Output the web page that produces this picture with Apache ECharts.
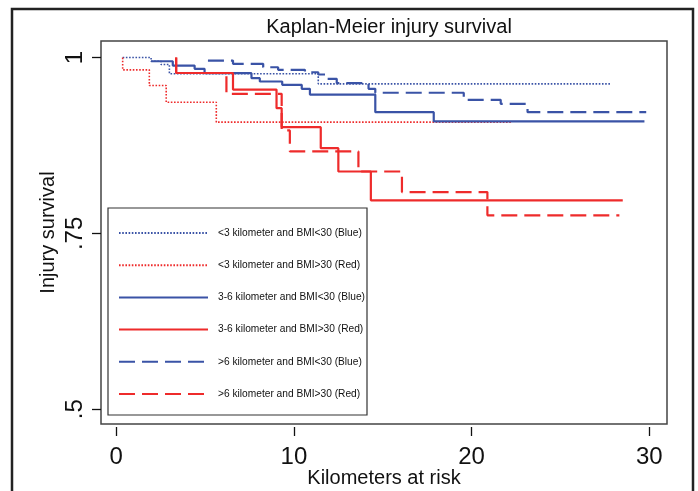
<!DOCTYPE html>
<html>
<head>
<meta charset="utf-8">
<script src="https://cdn.jsdelivr.net/npm/echarts@6/dist/echarts.min.js"></script>
<style>html,body{margin:0;padding:0;background:#fff}#c{width:698px;height:491px}</style>
</head>
<body>
<div id="c"></div>
<script>
// ---- data ----
const seriesNames = [
  '<3 kilometer and BMI<30 (Blue)',
  '<3 kilometer and BMI>30 (Red)',
  '3-6 kilometer and BMI<30 (Blue)',
  '3-6 kilometer and BMI>30 (Red)',
  '>6 kilometer and BMI<30 (Blue)',
  '>6 kilometer and BMI>30 (Red)'
];
const blueDottedTime = [0.36, 1.96, 2.52, 2.99, 11.37, 27.8];
const blueDottedSurv = [1.0, 0.9947, 0.990, 0.977, 0.9626, 0.9626];
const redDottedTime = [0.36, 0.36, 1.86, 2.81, 5.63, 22.3];
const redDottedSurv = [1.0, 0.9825, 0.9602, 0.9365, 0.9081, 0.9081];
const blueSolidTime = [1.96, 3.18, 4.41, 4.97, 7.61, 8.08, 9.34, 10.44, 10.90, 14.58, 17.87, 29.73];
const blueSolidSurv = [0.9947, 0.9886, 0.9839, 0.9777, 0.9706, 0.9659, 0.9612, 0.9555, 0.9474, 0.9223, 0.9091, 0.9091];
const redSolidTime = [3.37, 3.37, 6.57, 9.02, 9.31, 11.51, 12.50, 14.33, 28.51];
const redSolidSurv = [1.0, 0.978, 0.9545, 0.928, 0.901, 0.8712, 0.838, 0.797, 0.797];
const blueDashedTime = [5.16, 6.57, 8.27, 9.11, 10.62, 11.37, 11.85, 12.41, 14.20, 14.58, 19.56, 21.64, 23.15, 29.83];
const blueDashedSurv = [0.9957, 0.9911, 0.9862, 0.9825, 0.9791, 0.9759, 0.9697, 0.9635, 0.9555, 0.9499, 0.9399, 0.9342, 0.9223, 0.9223];
const redDashedTime = [3.37, 3.37, 6.20, 9.31, 9.77, 13.63, 16.08, 20.89, 28.32];
const redDashedSurv = [1.0, 0.978, 0.9484, 0.8963, 0.8665, 0.838, 0.8087, 0.7756, 0.7756];
const xTickValues = [0, 10, 20, 30];
const yTickValues = [0.5, 0.75, 1];
const yTickLabels = ['.5', '.75', '1'];

// ---- styling ----
const BLUE = '#3a53a6';
const RED = '#ee2b2b';
const FONT = 'Liberation Sans, Arial, sans-serif';
const zip = (t, s) => t.map((v, i) => [v, s[i]]);

const defs = [
  {t: blueDottedTime, s: blueDottedSurv, c: BLUE, w: 1.6, type: [1.6, 1.6]},
  {t: redDottedTime, s: redDottedSurv, c: RED, w: 1.6, type: [1.6, 1.6]},
  {t: blueSolidTime, s: blueSolidSurv, c: BLUE, w: 2.2, type: 'solid'},
  {t: redSolidTime, s: redSolidSurv, c: RED, w: 2.2, type: 'solid'},
  {t: blueDashedTime, s: blueDashedSurv, c: BLUE, w: 2.2, type: [16, 7]},
  {t: redDashedTime, s: redDashedSurv, c: RED, w: 2.2, type: [16, 7]}
];

const chart = echarts.init(document.getElementById('c'), null, {renderer: 'canvas'});
chart.setOption({
  animation: false,
  backgroundColor: '#fff',
  textStyle: {fontFamily: FONT, color: '#111'},
  title: {
    text: 'Kaplan-Meier injury survival',
    left: 384, top: 12, textAlign: 'center',
    textStyle: {fontFamily: FONT, fontSize: 20, fontWeight: 'normal', color: '#111'}
  },
  grid: {
    left: 101, top: 41, right: 31, bottom: 67,
    outerBoundsMode: 'none', containLabel: false,
    show: true, borderColor: '#444', borderWidth: 1.5, backgroundColor: '#fff'
  },
  xAxis: {
    type: 'value', min: -0.86, max: 31.0, offset: 3,
    name: 'Kilometers at risk', nameLocation: 'middle', nameGap: 41, nameMoveOverlap: false,
    nameTextStyle: {fontFamily: FONT, fontSize: 20, color: '#111'},
    axisLine: {show: false, onZero: false},
    axisTick: {show: true, length: 9, customValues: xTickValues, lineStyle: {color: '#111', width: 1.3}},
    axisLabel: {customValues: xTickValues, margin: 18, fontSize: 24, fontFamily: FONT, color: '#111'},
    splitLine: {show: false}
  },
  yAxis: {
    type: 'value', min: 0.479, max: 1.0235,
    name: 'Injury survival', nameLocation: 'middle', nameGap: 43, nameMoveOverlap: false,
    nameTextStyle: {fontFamily: FONT, fontSize: 20, color: '#111'},
    axisLine: {show: false, onZero: false},
    axisTick: {show: true, length: 9, customValues: yTickValues, lineStyle: {color: '#111', width: 1.3}},
    axisLabel: {
      customValues: yTickValues, rotate: 90, margin: 14, fontSize: 24, fontFamily: FONT, color: '#111',
      formatter: v => { const i = yTickValues.findIndex(u => Math.abs(u - v) < 1e-9); return i >= 0 ? yTickLabels[i] : ''; }
    },
    splitLine: {show: false}
  },
  legend: {
    orient: 'vertical', left: 108, top: 208,
    padding: [18, 10, 14, 10],
    itemWidth: 89, itemHeight: 14, itemGap: 18.2,
    selectedMode: false,
    data: seriesNames,
    itemStyle: {opacity: 0},
    textStyle: {fontFamily: FONT, fontSize: 10.2, lineHeight: 14, color: '#111', padding: [0, 0, 0, 5]}
  },
  graphic: [
    {type: 'rect', z: 100, silent: true,
     shape: {x: 12, y: 9, width: 681, height: 500},
     style: {fill: 'none', stroke: '#222', lineWidth: 2.5}},
    {type: 'rect', z: 100, silent: true,
     shape: {x: 108, y: 208, width: 259, height: 207},
     style: {fill: 'none', stroke: '#333', lineWidth: 1.2}}
  ],
  series: defs.map((d, i) => ({
    name: seriesNames[i],
    type: 'line',
    step: 'end',
    symbol: 'none',
    data: zip(d.t, d.s),
    lineStyle: {color: d.c, width: d.w, type: d.type},
    itemStyle: {color: d.c},
    z: 2 + i
  }))
});
</script>
</body>
</html>
